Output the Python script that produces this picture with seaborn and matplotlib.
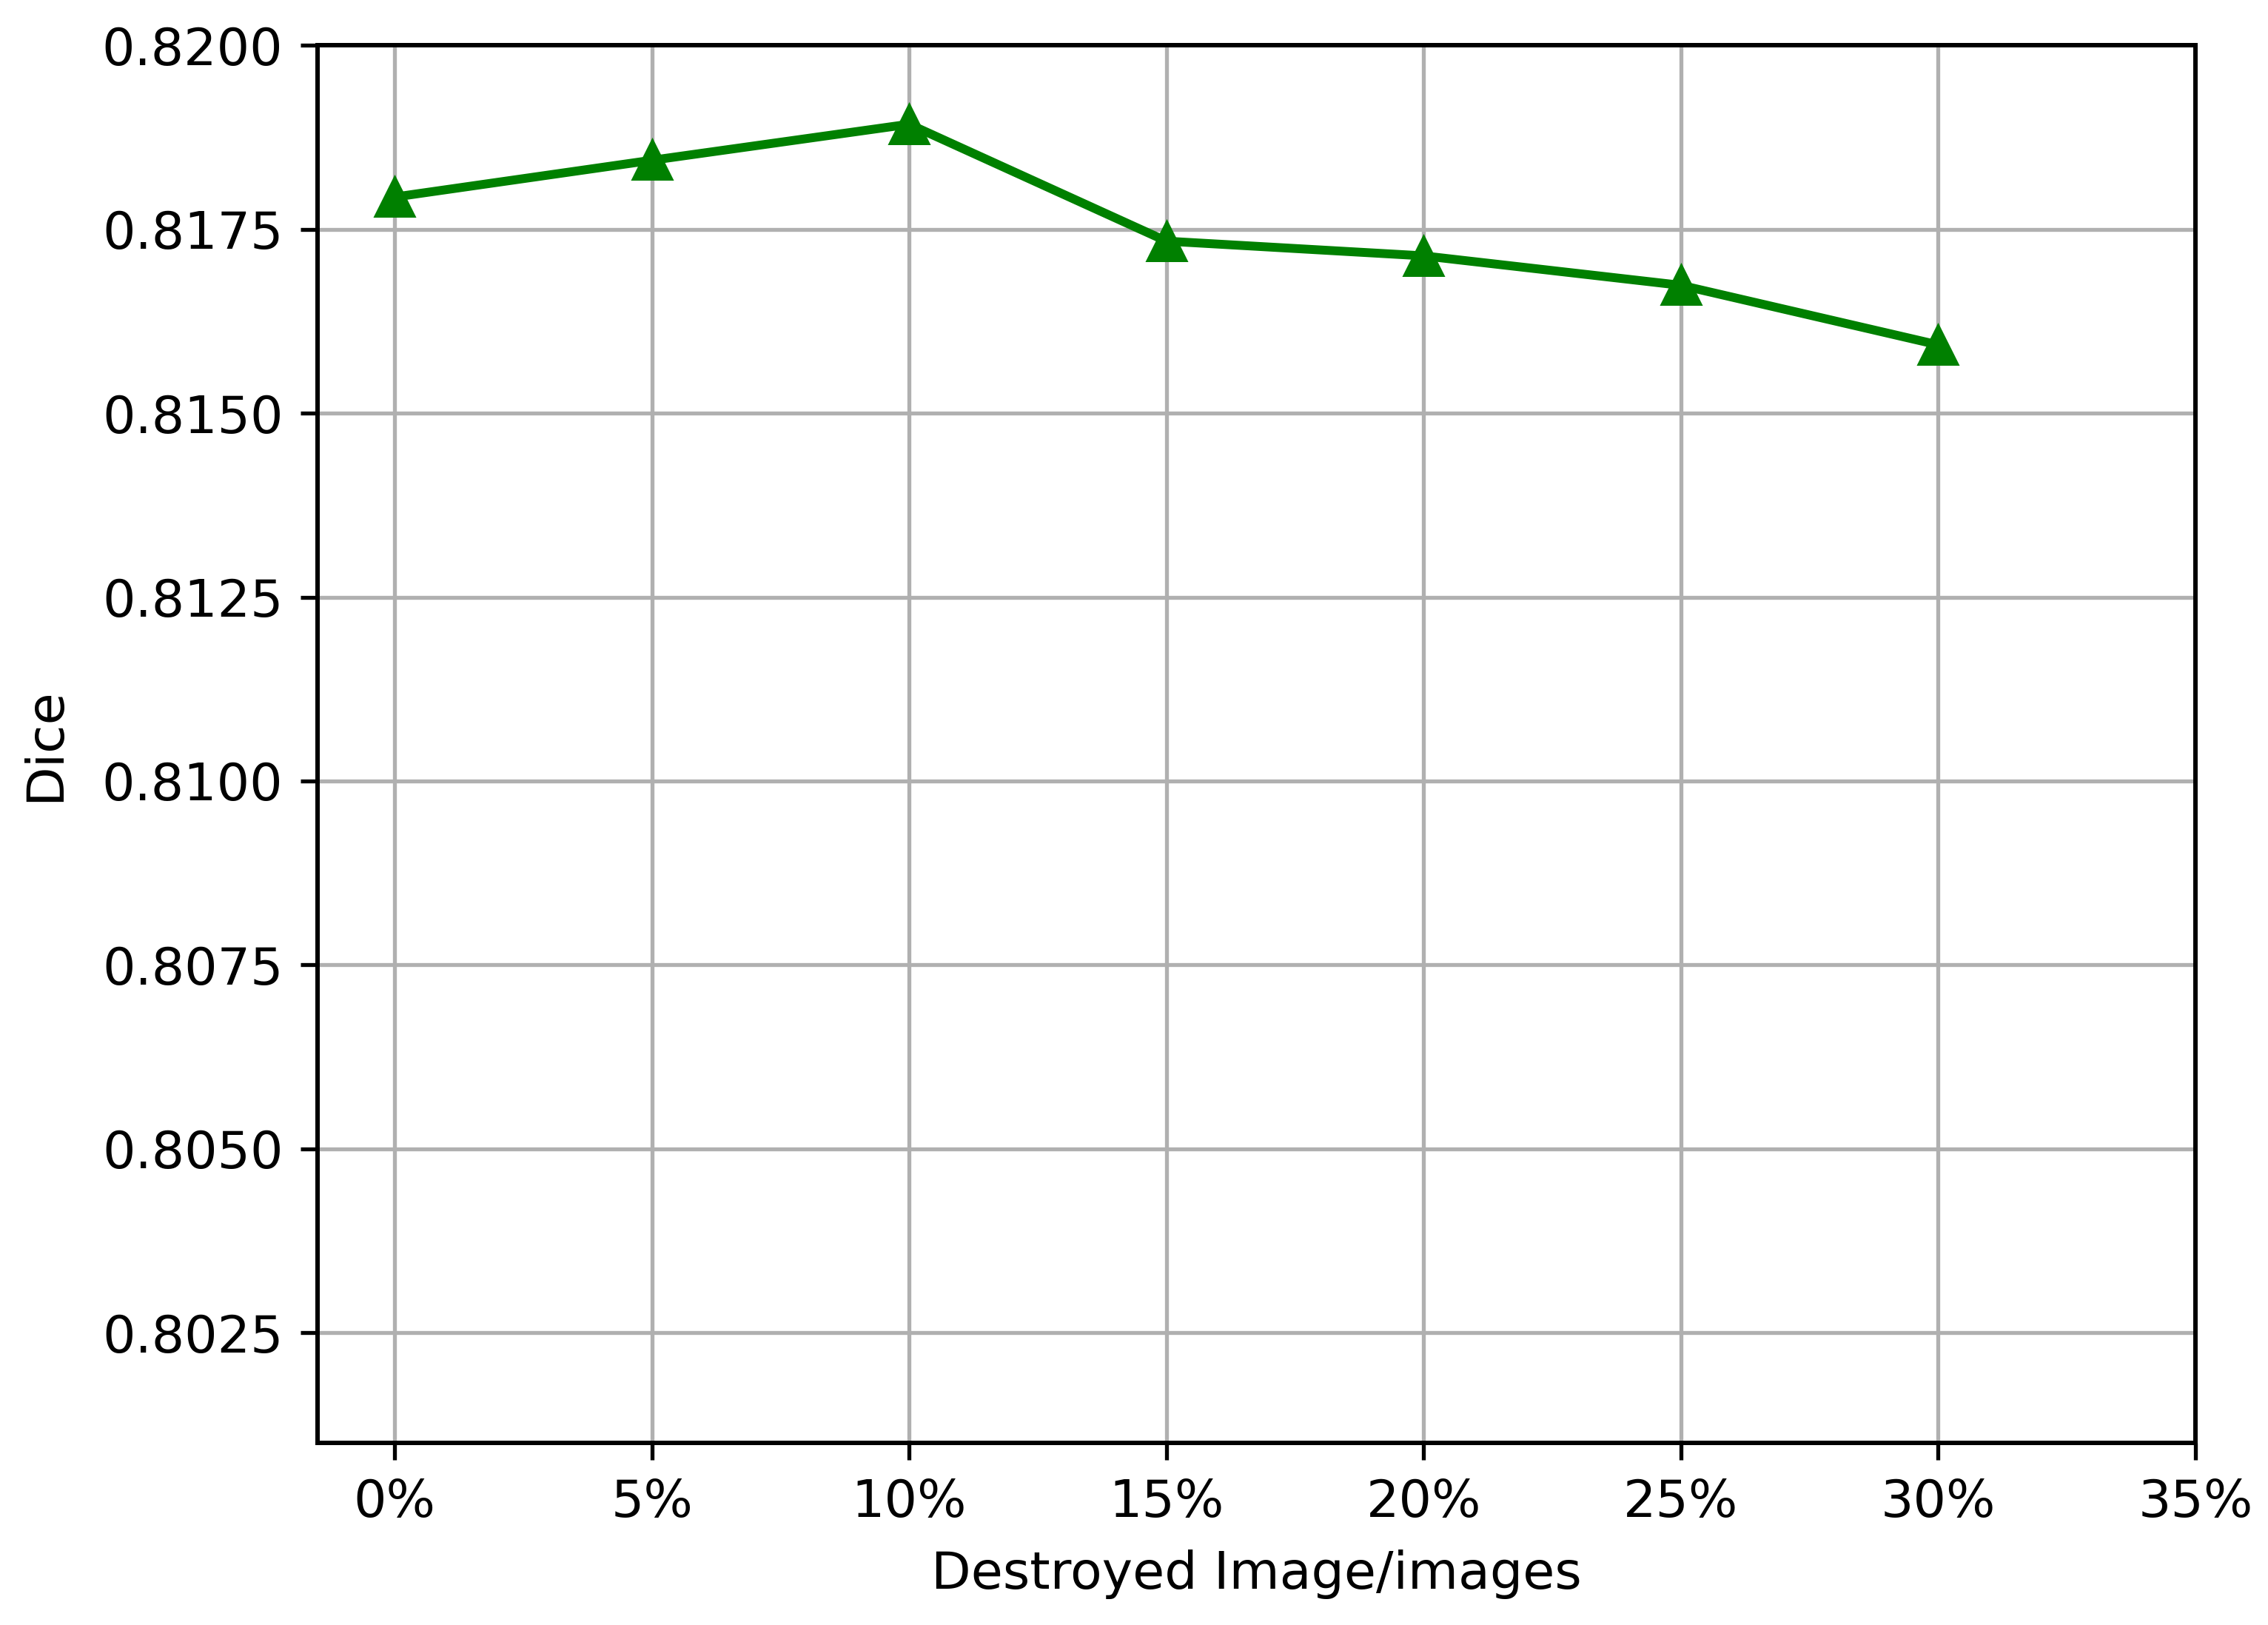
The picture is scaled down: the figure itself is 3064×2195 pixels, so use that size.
import numpy as np
import pandas as pd
import matplotlib
matplotlib.use("Agg")
import matplotlib.pyplot as plt
import matplotlib.ticker as mticker
import seaborn as sns

# 数据：损坏图像比例与对应的 Dice
destroyed_pct = [0, 5, 10, 15, 20, 25, 30]
dice = [0.81794, 0.81844, 0.81893, 0.81734, 0.81714, 0.81674, 0.81593]
x_ticks = [0, 5, 10, 15, 20, 25, 30, 35]
y_ticks = [0.8025, 0.8050, 0.8075, 0.8100, 0.8125, 0.8150, 0.8175, 0.8200]

sns.set_theme(style="ticks")
plt.rcParams['font.family'] = ['DejaVu Sans']

df = pd.DataFrame({'pct': destroyed_pct, 'dice': dice})

dpi = 478.75
fig = plt.figure(figsize=(3064 / dpi, 2195 / dpi), dpi=dpi)
ax = fig.add_axes([0.140, 0.112, 0.828, 0.860])

sns.lineplot(data=df, x='pct', y='dice', marker='^', color='green',
             linewidth=1.8, markersize=7.5, markeredgecolor='green', ax=ax)

ax.set_xlim(-1.5, 35)
ax.set_ylim(0.8010, 0.8200)
ax.set_xticks(x_ticks)
ax.set_yticks(y_ticks)
ax.xaxis.set_major_formatter(mticker.FuncFormatter(lambda v, p: f"{v:.0f}%"))
ax.yaxis.set_major_formatter(mticker.FormatStrFormatter('%.4f'))
ax.tick_params(labelsize=10.5, length=3.5, width=0.8, color='black', labelcolor='black')
ax.grid(True, color='#b0b0b0', linewidth=0.8)
ax.set_axisbelow(True)
for s in ax.spines.values():
    s.set_color('black')
    s.set_linewidth(0.9)

ax.set_xlabel('Destroyed Image/images', fontsize=10.5, color='black', labelpad=4.5)
ax.set_ylabel('Dice', fontsize=10.5, color='black', labelpad=6.5)

fig.savefig('out.png', dpi=dpi, facecolor='white')
